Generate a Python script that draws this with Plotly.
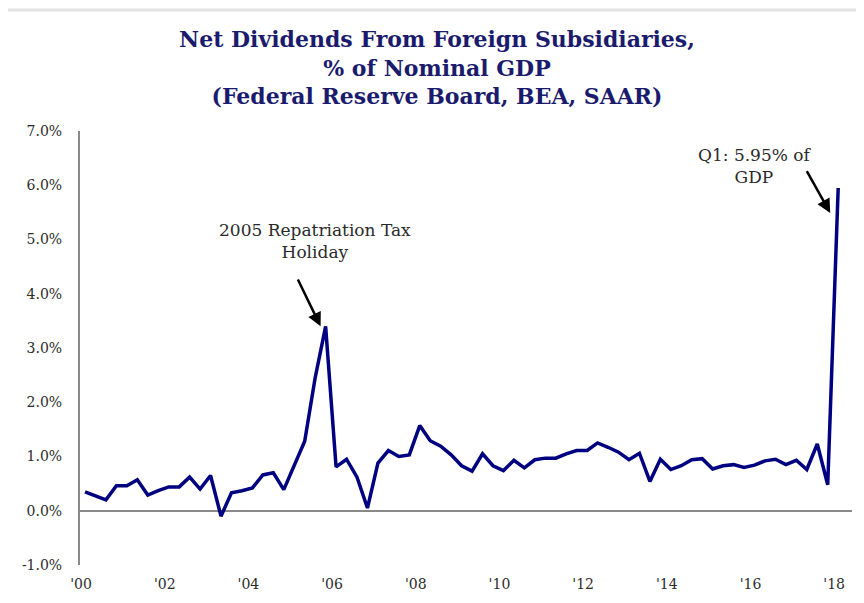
import plotly.graph_objects as go

# Quarterly data, 2000Q1 .. 2018Q1 (% of nominal GDP)
years_start = 2000
values = [
    0.35, 0.27, 0.20, 0.46,   # 2000
    0.46, 0.57, 0.29, 0.37,   # 2001
    0.44, 0.44, 0.62, 0.40,   # 2002
    0.65, -0.10, 0.33, 0.37,  # 2003
    0.42, 0.66, 0.70, 0.39,   # 2004
    0.83, 1.28, 2.45, 3.40,   # 2005
    0.81, 0.95, 0.62, 0.05,   # 2006
    0.88, 1.11, 1.00, 1.03,   # 2007
    1.57, 1.29, 1.19, 1.03,   # 2008
    0.83, 0.73, 1.05, 0.83,   # 2009
    0.74, 0.93, 0.79, 0.94,   # 2010
    0.97, 0.97, 1.05, 1.11,   # 2011
    1.11, 1.25, 1.17, 1.08,   # 2012
    0.94, 1.06, 0.54, 0.95,   # 2013
    0.76, 0.83, 0.94, 0.96,   # 2014
    0.77, 0.83, 0.85, 0.80,   # 2015
    0.84, 0.92, 0.95, 0.85,   # 2016
    0.93, 0.76, 1.23, 0.48,   # 2017
    5.95,                     # 2018 Q1
]
x_dates = [years_start + i / 4 for i in range(len(values))]

x_tick_vals = [2000, 2002, 2004, 2006, 2008, 2010, 2012, 2014, 2016, 2018]
x_tick_text = ["'00", "'02", "'04", "'06", "'08", "'10", "'12", "'14", "'16", "'18"]
y_tick_vals = [-1, 0, 1, 2, 3, 4, 5, 6, 7]
y_tick_text = ["-1.0%", "0.0%", "1.0%", "2.0%", "3.0%", "4.0%", "5.0%", "6.0%", "7.0%"]

title_text = ("Net Dividends From Foreign Subsidiaries,<br>% of Nominal GDP<br>"
              "(Federal Reserve Board, BEA, SAAR)")
note1_text = "2005 Repatriation Tax<br>Holiday"
note2_text = "Q1: 5.95% of<br>GDP"

NAVY = "#000080"
AXIS_GRAY = "#8a8a8a"
TEXT_DARK = "#2a2a2a"
SERIF = "DejaVu Serif"

# The page body has an 8px margin, so the figure is 8px smaller than the window
FW, FH = 856, 595
L, R, T, B = 72, 12, 123, 38
pw, ph = FW - L - R, FH - T - B

fig = go.Figure()
fig.add_trace(go.Scatter(
    x=x_dates, y=values, mode="lines",
    line=dict(color=NAVY, width=3.5),
    hoverinfo="skip", showlegend=False,
))

# Text annotations
fig.add_annotation(x=2005.5, y=4.98, text=note1_text, showarrow=False,
                   font=dict(family=SERIF, size=17, color=TEXT_DARK), align="center")
fig.add_annotation(x=2016.02, y=6.35, text=note2_text, showarrow=False,
                   font=dict(family=SERIF, size=17, color=TEXT_DARK), align="center")
# Arrows
fig.add_annotation(x=2005.63, y=3.40, ax=2005.07, ay=4.29, axref="x", ayref="y",
                   text="", showarrow=True, arrowhead=2, arrowsize=1.1,
                   arrowwidth=2.5, arrowcolor="black", standoff=0)
fig.add_annotation(x=2017.81, y=5.49, ax=2017.23, ay=6.29, axref="x", ayref="y",
                   text="", showarrow=True, arrowhead=2, arrowsize=1.1,
                   arrowwidth=2.5, arrowcolor="black", standoff=0)

def px(xp):
    return (xp - L) / pw
def py(yp):
    return (FH - B - yp) / ph

# light frame line at the top of the image
fig.add_shape(type="line", xref="paper", yref="paper",
              x0=px(0), x1=px(FW), y0=py(2), y1=py(2),
              line=dict(color="#e3e3e3", width=3))

fig.update_layout(
    width=FW, height=FH, autosize=False,
    margin=dict(l=L, r=R, t=T, b=B),
    paper_bgcolor="white", plot_bgcolor="white",
    title=dict(text=title_text, x=(437 - 8) / FW, xanchor="center",
               y=1 - 39 / FH, yanchor="top",
               font=dict(family=SERIF, size=22, color="#1b1b6e", weight="bold")),
    xaxis=dict(range=[1999.88, 2018.33], showgrid=False, zeroline=False, showline=False,
               tickmode="array", tickvals=x_tick_vals, ticktext=x_tick_text,
               ticks="", ticklabelstandoff=9, ticklabelshift=-4,
               tickfont=dict(family=SERIF, size=14, color="#2b2b2b")),
    yaxis=dict(range=[-1, 7], showgrid=False, zeroline=True, zerolinecolor=AXIS_GRAY,
               zerolinewidth=2, showline=True, linecolor=AXIS_GRAY, linewidth=2,
               tickmode="array", tickvals=y_tick_vals, ticktext=y_tick_text,
               ticks="", ticklabelstandoff=13,
               tickfont=dict(family=SERIF, size=14, color="#2b2b2b")),
)

fig.write_html("out.html")
